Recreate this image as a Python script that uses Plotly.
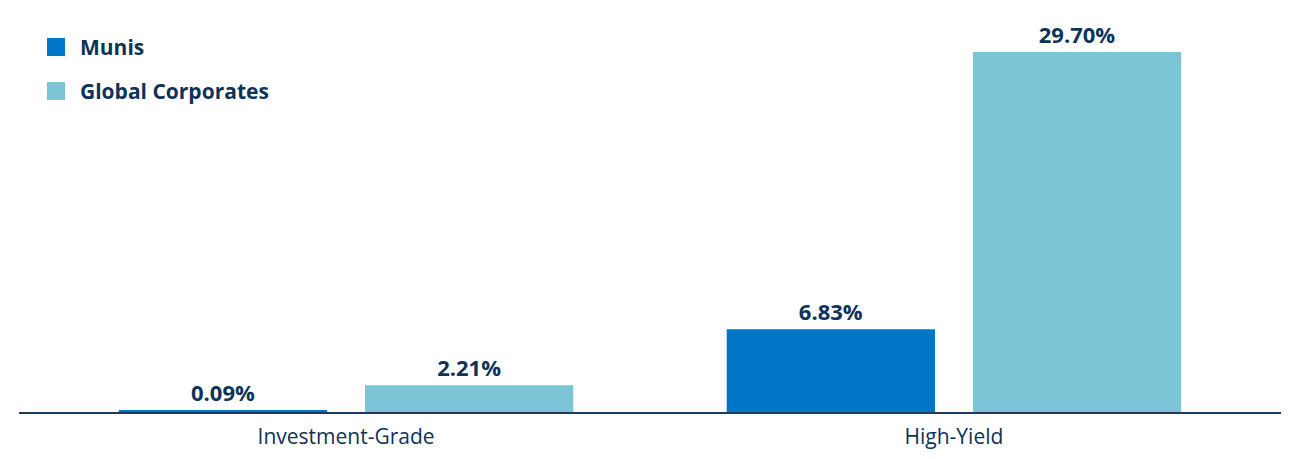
import plotly.graph_objects as go

# data
CATEGORIES = ['Investment-Grade', 'High-Yield']
SERIES_NAMES = ['Munis', 'Global Corporates']
MUNIS = [0.09, 6.83]
GLOBAL_CORP = [2.21, 29.70]

COLORS = {
    'munis': '#0076c8',
    'corp':  '#7bc5d6',
    'text':  '#0d3358',
    'axis':  '#1f3b59',
}

W, H = 1300, 459
OFF = 8  # page body margin pushes the figure down/right by this much
M = dict(l=19 - OFF, r=19 + OFF, t=40 - OFF, b=47 + OFF)
FONT = 'Open Sans, Noto Sans, sans-serif'

fig = go.Figure()
for name, vals, col in [(SERIES_NAMES[0], MUNIS, COLORS['munis']),
                        (SERIES_NAMES[1], GLOBAL_CORP, COLORS['corp'])]:
    fig.add_trace(go.Bar(
        x=CATEGORIES, y=vals, name=name,
        marker=dict(color=col, line_width=0),
        text=[f'{v:.2f}%' for v in vals],
        textposition='outside',
        textfont=dict(size=22, color=COLORS['text'], family=FONT, weight='bold'),
        cliponaxis=False,
        showlegend=False,
    ))

# legend drawn by hand (bigger squares than plotly's bar icon), screen px -> paper
pw = W - M['l'] - M['r']
ph = H - M['t'] - M['b']
def px_x(p): return (p - OFF - M['l']) / pw
def px_y(p): return (H - M['b'] - (p - OFF)) / ph

for i, (name, col) in enumerate(zip(SERIES_NAMES, [COLORS['munis'], COLORS['corp']])):
    cy = 47 + i * 44
    fig.add_shape(type='rect', xref='paper', yref='paper',
                  x0=px_x(47), x1=px_x(65), y0=px_y(cy + 9), y1=px_y(cy - 9),
                  fillcolor=col, line_width=0)
    fig.add_annotation(xref='paper', yref='paper', x=px_x(78), y=px_y(cy),
                       xanchor='left', yanchor='middle', showarrow=False,
                       text=name,
                       font=dict(size=21, color=COLORS['text'], family=FONT, weight='bold'))

fig.update_layout(
    width=W, height=H, margin=M,
    paper_bgcolor='white', plot_bgcolor='white',
    barmode='group', bargap=0.19, bargroupgap=0.154,
    font=dict(family=FONT, color=COLORS['text']),
)
fig.update_xaxes(range=[-0.538, 1.538], showline=True, linecolor=COLORS['axis'],
                 linewidth=2, showgrid=False, ticks='', ticklabelstandoff=5,
                 tickfont=dict(size=21, color=COLORS['text'], family=FONT))
fig.update_yaxes(range=[0, 30.69], visible=False, showgrid=False, zeroline=False)

fig.write_html('out.html')
